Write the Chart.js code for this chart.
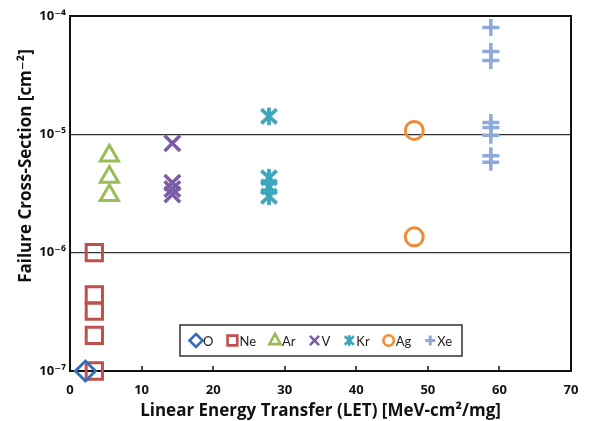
<!DOCTYPE html>
<html><head><meta charset="utf-8">
<script src="https://cdn.jsdelivr.net/npm/chart.js@4/dist/chart.umd.min.js"></script>
<style>html,body{margin:0;padding:0;background:#fff}#wrap{width:598px;height:421px;position:relative}</style>
</head><body><div id="wrap"><canvas id="c"></canvas></div>
<script>
// ---- data ----
const seriesNames = ['O', 'Ne', 'Ar', 'V', 'Kr', 'Ag', 'Xe'];
const xO  = [2.15];
const yO  = [1.0e-7];
const xNe = [3.4, 3.4, 3.4, 3.4, 3.4];
const yNe = [1.0e-6, 4.4e-7, 3.2e-7, 2.0e-7, 1.0e-7];
const xAr = [5.5, 5.5, 5.5];
const yAr = [6.6e-6, 4.35e-6, 3.05e-6];
const xV  = [14.3, 14.3, 14.3, 14.3];
const yV  = [8.4e-6, 3.9e-6, 3.45e-6, 3.1e-6];
const xKr = [27.8, 27.8, 27.8, 27.8];
const yKr = [1.42e-5, 4.3e-6, 3.6e-6, 3.0e-6];
const xAg = [48.1, 48.1];
const yAg = [1.08e-5, 1.36e-6];
const xXe = [58.8, 58.8, 58.8, 58.8, 58.8, 58.8, 58.8, 58.8];
const yXe = [8.0e-5, 5.0e-5, 4.2e-5, 1.26e-5, 1.14e-5, 9.8e-6, 6.6e-6, 5.8e-6];
const xTicks = [0, 10, 20, 30, 40, 50, 60, 70];
const yTicks = [1e-7, 1e-6, 1e-5, 1e-4];
const xTitle = 'Linear Energy Transfer (LET) [MeV-cm\u00B2/mg]';
const yTitle = 'Failure Cross-Section [cm\u207B\u00B2]';

const xs = [xO, xNe, xAr, xV, xKr, xAg, xXe];
const ys = [yO, yNe, yAr, yV, yKr, yAg, yXe];
const colors = ['#356EB8', '#C0504D', '#9BBB59', '#7B5CA5', '#3BA5BC', '#F08A35', '#8EAADB'];
const markers = ['diamond', 'square', 'triangle', 'x', 'star', 'circle', 'plus'];

function drawMarker(ctx, type, x, y, r, color, lw) {
  ctx.save();
  ctx.strokeStyle = color; ctx.lineWidth = lw; ctx.lineJoin = 'miter'; ctx.lineCap = 'butt';
  ctx.beginPath();
  switch (type) {
    case 'diamond': ctx.moveTo(x, y - r); ctx.lineTo(x + r, y); ctx.lineTo(x, y + r); ctx.lineTo(x - r, y); ctx.closePath(); break;
    case 'square': ctx.rect(x - 0.75 * r, y - 0.75 * r, 1.5 * r, 1.5 * r); break;
    case 'triangle': ctx.moveTo(x, y - r); ctx.lineTo(x + 0.87 * r, y + 0.55 * r); ctx.lineTo(x - 0.87 * r, y + 0.55 * r); ctx.closePath(); break;
    case 'x': ctx.moveTo(x - 0.7 * r, y - 0.7 * r); ctx.lineTo(x + 0.7 * r, y + 0.7 * r); ctx.moveTo(x + 0.7 * r, y - 0.7 * r); ctx.lineTo(x - 0.7 * r, y + 0.7 * r); break;
    case 'star': ctx.moveTo(x - 0.7 * r, y - 0.65 * r); ctx.lineTo(x + 0.7 * r, y + 0.65 * r); ctx.moveTo(x + 0.7 * r, y - 0.65 * r); ctx.lineTo(x - 0.7 * r, y + 0.65 * r); ctx.moveTo(x, y - 0.8 * r); ctx.lineTo(x, y + 0.8 * r); break;
    case 'circle': ctx.arc(x, y, 0.8 * r, 0, Math.PI * 2); break;
    case 'plus': ctx.moveTo(x - r, y); ctx.lineTo(x + r, y); ctx.moveTo(x, y - r); ctx.lineTo(x, y + r); break;
  }
  ctx.stroke();
  ctx.restore();
}

// Kr marker image (X with a vertical bar)
const krImg = document.createElement('canvas');
krImg.width = 24; krImg.height = 24;
drawMarker(krImg.getContext('2d'), 'star', 12, 12, 11, colors[4], 3.8);

const pointStyles = ['rectRot', 'rect', 'triangle', 'crossRot', krImg, 'circle', 'cross'];
const radii = [10, 11.5, 10.5, 11, 10, 9, 8.5];
const widths = [3, 3, 3, 3.5, 3, 3, 3.5];

const datasets = seriesNames.map((name, i) => ({
  label: name,
  data: xs[i].map((x, j) => ({ x: x, y: ys[i][j] })),
  pointStyle: pointStyles[i],
  pointRadius: radii[i],
  pointHoverRadius: radii[i],
  pointBorderWidth: widths[i],
  borderColor: colors[i],
  backgroundColor: 'rgba(0,0,0,0)',
  showLine: false,
  clip: false
}));

const supMap = { '-': '\u207B', '0': '\u2070', '1': '\u00B9', '2': '\u00B2', '3': '\u00B3', '4': '\u2074', '5': '\u2075', '6': '\u2076', '7': '\u2077', '8': '\u2078', '9': '\u2079' };
function powLabel(v) {
  const e = String(Math.round(Math.log10(v)));
  return '10' + e.split('').map(c => supMap[c]).join('');
}

const AXFONT = "'Open Sans', 'DejaVu Sans', sans-serif";
const LGFONT = "Lato, 'DejaVu Sans', sans-serif";

const framePlugin = {
  id: 'frame',
  beforeDatasetsDraw(chart) {
    const { ctx, chartArea: a } = chart;
    ctx.save();
    // inward tick marks on x axis
    ctx.strokeStyle = '#111'; ctx.lineWidth = 1.5;
    const sx = chart.scales.x;
    xTicks.slice(1, -1).forEach(t => {
      const px = Math.round(sx.getPixelForValue(t));
      ctx.beginPath(); ctx.moveTo(px, a.bottom); ctx.lineTo(px, a.bottom - 5); ctx.stroke();
    });
    ctx.lineWidth = 2;
    ctx.strokeRect(a.left, a.top, a.right - a.left, a.bottom - a.top);
    // y title
    ctx.fillStyle = '#111';
    ctx.font = 'bold 17px ' + AXFONT;
    ctx.textAlign = 'center'; ctx.textBaseline = 'middle';
    ctx.translate(26, 166);
    ctx.rotate(-Math.PI / 2);
    ctx.fillText(yTitle, 0, 0);
    ctx.restore();
  },
  afterDraw(chart) {
    const { ctx, chartArea: a } = chart;
    ctx.save();
    ctx.font = '13px ' + LGFONT;
    const gap = 13, mw = 13, pad = 10;
    let total = pad * 2 - gap;
    seriesNames.forEach(n => { total += mw + ctx.measureText(n).width + gap; });
    const cx = (a.left + a.right) / 2;
    const left = Math.round(cx - total / 2), top = 325, h = 31;
    ctx.fillStyle = '#fff';
    ctx.fillRect(left, top, total, h);
    ctx.strokeStyle = '#333'; ctx.lineWidth = 1.5;
    ctx.strokeRect(left, top, total, h);
    let x = left + pad;
    const cy = top + h / 2;
    seriesNames.forEach((n, i) => {
      drawMarker(ctx, markers[i], x + 6, cy, i === 6 ? 5 : 6.5, colors[i], i === 6 ? 3 : 2.6);
      ctx.fillStyle = '#222'; ctx.textAlign = 'left'; ctx.textBaseline = 'middle';
      ctx.fillText(n, x + mw, cy + 1);
      x += mw + ctx.measureText(n).width + gap;
    });
    ctx.restore();
  }
};

new Chart(document.getElementById('c'), {
  type: 'scatter',
  data: { datasets },
  options: {
    responsive: true, maintainAspectRatio: false, animation: false, devicePixelRatio: 1,
    layout: { padding: { top: 16, right: 27, left: 0, bottom: 0 } },
    plugins: { legend: { display: false }, tooltip: { enabled: false } },
    scales: {
      x: {
        type: 'linear', min: 0, max: 70,
        afterBuildTicks: s => { s.ticks = xTicks.map(v => ({ value: v })); },
        afterFit: s => { s.height = 50; },
        ticks: { color: '#111', font: { family: AXFONT, size: 13, weight: 'bold' }, padding: 11, maxRotation: 0 },
        grid: { display: false, drawTicks: false },
        border: { display: false },
        title: { display: true, text: xTitle, color: '#111', font: { family: AXFONT, size: 17, weight: 'bold' }, padding: { top: 0, bottom: 0 } }
      },
      y: {
        type: 'logarithmic', min: 1e-7, max: 1e-4,
        afterBuildTicks: s => { s.ticks = yTicks.map(v => ({ value: v })); },
        afterFit: s => { s.width = 70; },
        ticks: { color: '#111', font: { family: AXFONT, size: 13, weight: 'bold' }, padding: 4, callback: v => powLabel(v) },
        grid: {
          drawTicks: false, lineWidth: 1.2,
          color: c => (c.tick && (Math.abs(c.tick.value - 1e-5) < 1e-9 || Math.abs(c.tick.value - 1e-6) < 1e-10)) ? '#333' : 'rgba(0,0,0,0)'
        },
        border: { display: false }
      }
    }
  },
  plugins: [framePlugin]
});
</script>
</body></html>
